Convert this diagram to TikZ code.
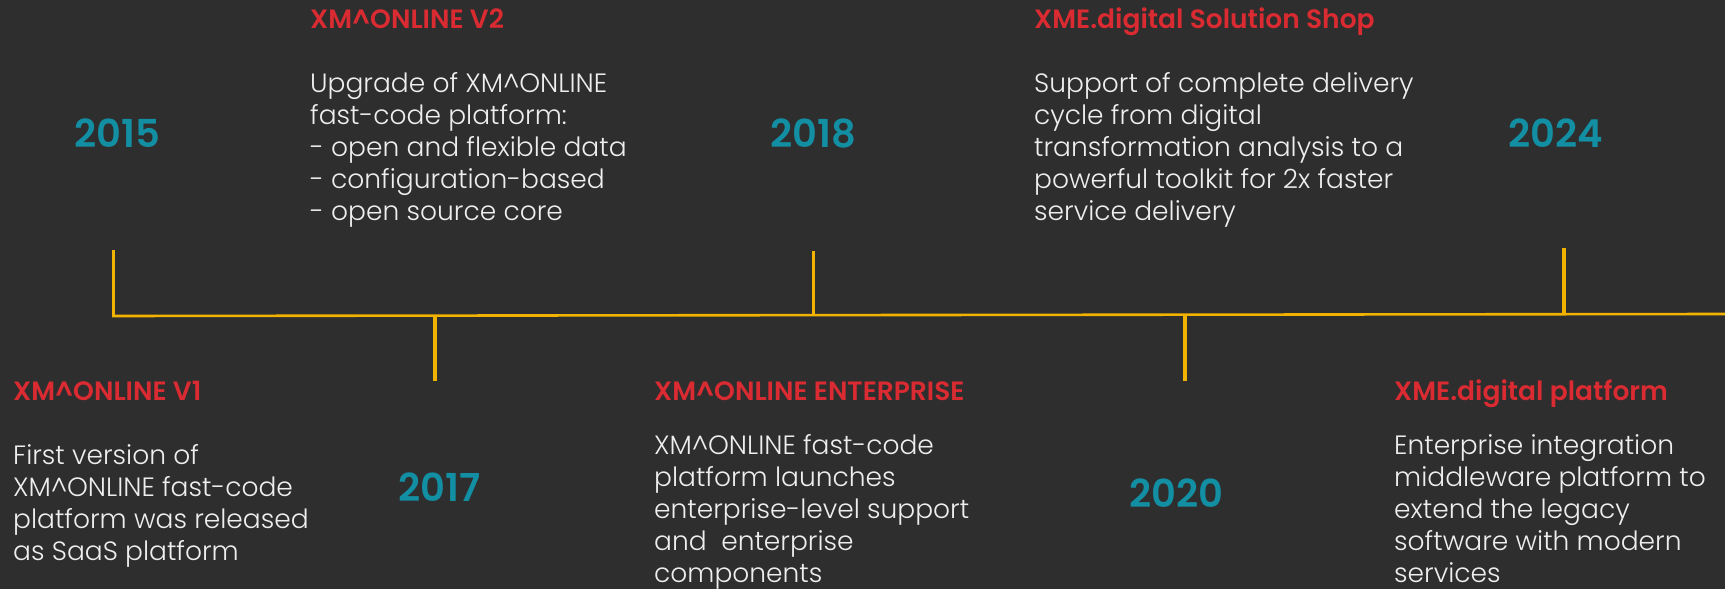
\documentclass[tikz,border=0pt]{standalone}
\usepackage{fontspec}
\setmainfont{Poppins Light}
\newfontfamily\semib{Poppins SemiBold}
\definecolor{bgc}{HTML}{2E2E2E}
\definecolor{redc}{HTML}{D92B31}
\definecolor{yearc}{HTML}{138FA4}
\definecolor{bodyc}{HTML}{EEEEEE}
\definecolor{tickc}{HTML}{F2B200}
\begin{document}
\begin{tikzpicture}[x=1pt,y=-1pt,
  yearlbl/.style={font=\semib\fontsize{38.5}{40}\selectfont, text=yearc, inner sep=0pt, anchor=base},
  titlelbl/.style={font=\semib\fontsize{26.5}{32}\selectfont, text=redc, inner sep=0pt, anchor=base west},
  bodylbl/.style={font=\fontsize{26.5}{32}\selectfont, text=bodyc, inner sep=0pt, anchor=base west, align=left},
  tickline/.style={draw=tickc, line width=3.5pt},
  axisline/.style={draw=tickc, line width=2.6pt}]
\fill[bgc] (0,0) rectangle (1725,589);
\useasboundingbox (0,0) rectangle (1725,589);

% axis and ticks
\coordinate (axL) at (112,316);
\coordinate (axR) at (1725,314);
\draw[axisline] (axL) -- (axR);
\coordinate (b15) at (113.5,316); \coordinate (t15) at (113.5,250);
\coordinate (b17) at (435,381);   \coordinate (t17) at (435,315.6);
\coordinate (b18) at (813.5,315.1); \coordinate (t18) at (813.5,251);
\coordinate (b20) at (1185,381);  \coordinate (t20) at (1185,314.7);
\coordinate (b24) at (1564,314.2); \coordinate (t24) at (1564,248);
\draw[tickline] (b15) -- (t15);
\draw[tickline] (t17) -- (b17);
\draw[tickline] (b18) -- (t18);
\draw[tickline] (t20) -- (b20);
\draw[tickline] (b24) -- (t24);

% years
\node[yearlbl] (y15) at (117.7,147.7) {2015};
\node[yearlbl] (y17) at (439.5,501.7) {2017};
\node[yearlbl] (y18) at (813,147.7) {2018};
\node[yearlbl] (y20) at (1176,507) {2020};
\node[yearlbl] (y24) at (1556,147.7) {2024};

% titles
\node[titlelbl] (h2) at (310,28.3) {XM\textasciicircum ONLINE V2};
\node[titlelbl] (hs) at (1034,28.3) {XME.digital Solution Shop};
\node[titlelbl] (h1) at (13,400.7) {XM\textasciicircum ONLINE V1};
\node[titlelbl] (he) at (654,400.7) {XM\textasciicircum ONLINE ENTERPRISE};
\node[titlelbl] (hp) at (1394,400.7) {XME.digital platform};

% bodies (anchor = baseline of last line)
\node[bodylbl] (d2) at (310,220) {Upgrade of XM\textasciicircum ONLINE\\fast-code platform:\\- open and flexible data\\- configuration-based\\- open source core};
\node[bodylbl] (ds) at (1034,220) {Support of complete delivery\\cycle from digital\\transformation analysis to a\\powerful toolkit for 2x faster\\service delivery};
\node[bodylbl] (d1) at (13,560) {First version of\\XM\textasciicircum ONLINE fast-code\\platform was released\\as SaaS platform};
\node[bodylbl] (de) at (654,582) {XM\textasciicircum ONLINE fast-code\\platform launches\\enterprise-level support\\and\ \ enterprise\\components};
\node[bodylbl] (dp) at (1394,582) {Enterprise integration\\middleware platform to\\extend the legacy\\software with modern\\services};
\end{tikzpicture}
\end{document}
